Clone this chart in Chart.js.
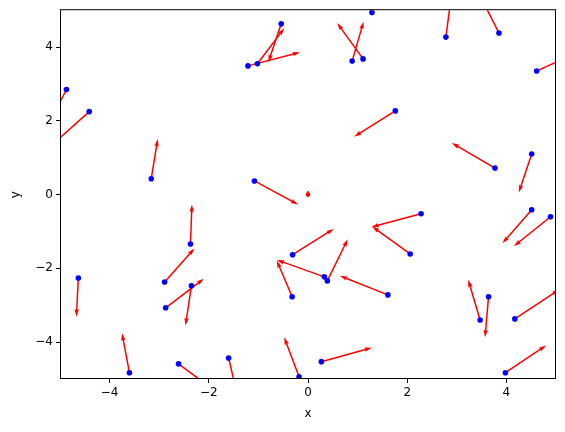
<!DOCTYPE html>
<html>
<head>
<meta charset="utf-8">
<script src="https://cdn.jsdelivr.net/npm/chart.js@4"></script>
<style>
  body { margin: 0; background: #fff; }
  canvas { display: block; }
</style>
</head>
<body>
<canvas id="quiver-chart" width="565" height="432"></canvas>
<script>
// points (tails) and where each arrow ends (tips)
const xs    = [-4.87, -4.41, -3.16, -1.21, -1.02, -0.54, 0.89, 1.11, 1.29, 1.76, 2.78, 3.85, 4.61, 3.77, 4.51, -1.08,
               -2.37, -2.89, -4.63, -2.35, -2.87, -3.60, -2.61, -0.31, 0.33, 0.39, -0.32, 1.61, -1.60, -0.18, 0.27,
               2.28, 2.06, 4.51, 4.89, 3.64, 3.47, 4.17, 3.98];
const ys    = [2.85, 2.25, 0.43, 3.49, 3.55, 4.63, 3.62, 3.68, 4.94, 2.27, 4.27, 4.38, 3.35, 0.72, 1.10, 0.37,
               -1.34, -2.37, -2.26, -2.47, -3.07, -4.83, -4.59, -1.63, -2.23, -2.34, -2.77, -2.72, -4.43, -4.94, -4.53,
               -0.52, -1.61, -0.41, -0.60, -2.77, -3.40, -3.37, -4.83];
const tipXs = [-5.15, -5.15, -3.03, -0.16, -0.48, -0.80, 1.12, 0.59, 1.15, 0.93, 2.88, 3.52, 5.20, 2.90, 4.25, -0.20,
               -2.34, -2.29, -4.67, -2.47, -2.10, -3.75, -2.07, 0.52, -0.63, 0.80, -0.63, 0.64, -1.47, -0.48, 1.29,
               1.28, 1.29, 3.92, 4.15, 3.57, 3.23, 5.07, 4.80];
const tipYs = [2.11, 1.36, 1.51, 3.86, 4.51, 3.59, 4.69, 4.65, 5.20, 1.57, 5.30, 5.26, 3.71, 1.40, 0.06, -0.27,
               -0.27, -1.46, -3.31, -3.55, -2.28, -3.76, -5.13, -0.93, -1.77, -1.21, -1.79, -2.20, -5.18, -3.87, -4.15,
               -0.88, -0.86, -1.32, -1.40, -3.87, -2.31, -2.57, -4.09];

// the tiny arrow near the origin that has no marker
const loneX = [0], loneY = [0.1], loneTipX = [0], loneTipY = [0];

const xTicks = [-4, -2, 0, 2, 4];
const yTicks = [-4, -2, 0, 2, 4];

function fmt(v) {
    return v < 0 ? "\u2212" + Math.abs(v) : String(v);
}

function drawArrow(ctx, x0, y0, x1, y1, w) {
    const dx = x1 - x0, dy = y1 - y0;
    const len = Math.hypot(dx, dy);
    if (len === 0) return;
    const ux = dx / len, uy = dy / len;
    const nx = -uy, ny = ux;
    // shape like matplotlib quiver: headlength 5, headaxislength 4.5, headwidth 3
    const pts = [
        [0, -0.5 * w], [len - 4.5 * w, -0.5 * w], [len - 5 * w, -1.5 * w], [len, 0],
        [len - 5 * w, 1.5 * w], [len - 4.5 * w, 0.5 * w], [0, 0.5 * w]
    ];
    ctx.beginPath();
    pts.forEach(([a, b], i) => {
        const px = x0 + ux * a + nx * b;
        const py = y0 + uy * a + ny * b;
        if (i === 0) ctx.moveTo(px, py); else ctx.lineTo(px, py);
    });
    ctx.closePath();
    ctx.fill();
}

const quiverPlugin = {
    id: "quiver",
    beforeDatasetsDraw(chart) {
        const { ctx, chartArea: a, scales: { x, y } } = chart;
        ctx.save();
        ctx.beginPath();
        ctx.rect(a.left, a.top, a.right - a.left, a.bottom - a.top);
        ctx.clip();
        ctx.fillStyle = "#ff0000";
        ctx.strokeStyle = "#ff0000";
        for (let i = 0; i < xs.length; i++) {
            drawArrow(ctx, x.getPixelForValue(xs[i]), y.getPixelForValue(ys[i]),
                x.getPixelForValue(tipXs[i]), y.getPixelForValue(tipYs[i]), 1.5);
        }
        // too short for a head: a small drop, as matplotlib draws it
        for (let i = 0; i < loneX.length; i++) {
            const px0 = x.getPixelForValue(loneX[i]), py0 = y.getPixelForValue(loneY[i]);
            const px1 = x.getPixelForValue(loneTipX[i]), py1 = y.getPixelForValue(loneTipY[i]);
            ctx.lineWidth = 1.5;
            ctx.beginPath();
            ctx.moveTo(px0, py0);
            ctx.lineTo(px1, py1);
            ctx.stroke();
            ctx.beginPath();
            ctx.arc(px1, py1, 2.3, 0, Math.PI * 2);
            ctx.fill();
        }
        ctx.restore();
    },
    afterDraw(chart) {
        const { ctx, chartArea: a } = chart;
        ctx.save();
        ctx.strokeStyle = "#000";
        ctx.lineWidth = 1;
        ctx.strokeRect(a.left + 0.5, a.top - 0.5, a.right - a.left - 1, a.bottom - a.top);
        ctx.restore();
    }
};

const font = { family: "'DejaVu Sans', sans-serif", size: 12 };

new Chart(document.getElementById("quiver-chart").getContext("2d"), {
    type: "scatter",
    data: {
        datasets: [{
            data: xs.map((v, i) => ({ x: v, y: ys[i] })),
            backgroundColor: "#0000ff",
            borderWidth: 0,
            pointRadius: 2.8,
            pointHoverRadius: 2.8
        }]
    },
    options: {
        responsive: false,
        animation: false,
        events: [],
        layout: { padding: { left: 0, top: 10, right: 9, bottom: 0 } },
        plugins: { legend: { display: false }, tooltip: { enabled: false } },
        scales: {
            x: {
                type: "linear",
                min: -5,
                max: 5,
                afterBuildTicks: s => { s.ticks = xTicks.map(v => ({ value: v })); },
                afterFit: s => { s.height = 53; },
                grid: { display: true, drawOnChartArea: false, drawTicks: true, tickLength: 4, color: "#000" },
                border: { display: false },
                ticks: { color: "#000", font: font, padding: 3, maxRotation: 0, callback: v => fmt(v) },
                title: { display: true, text: "x", color: "#000", font: font, padding: { top: 0, bottom: 11 } }
            },
            y: {
                type: "linear",
                min: -5,
                max: 5,
                afterBuildTicks: s => { s.ticks = yTicks.map(v => ({ value: v })); },
                afterFit: s => { s.width = 60; },
                grid: { display: true, drawOnChartArea: false, drawTicks: true, tickLength: 4, color: "#000" },
                border: { display: false },
                ticks: { color: "#000", font: font, padding: 3, callback: v => fmt(v) },
                title: { display: true, text: "y", color: "#000", font: font, padding: { top: 9, bottom: 0 } }
            }
        }
    },
    plugins: [quiverPlugin]
});
</script>
</body>
</html>
